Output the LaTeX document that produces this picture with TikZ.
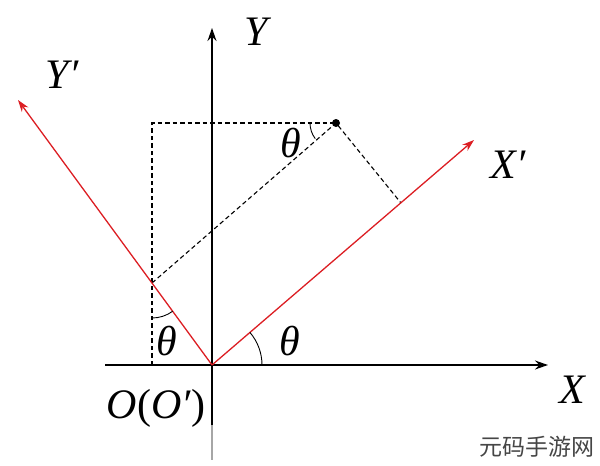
\documentclass[tikz,border=0pt]{standalone}
\usepackage{fontspec}
\setmainfont{Liberation Serif}
\newfontfamily\cjk{Noto Sans CJK SC}
\usetikzlibrary{arrows.meta}
\definecolor{axred}{RGB}{220,30,35}
\definecolor{wmgray}{RGB}{70,70,70}
\tikzset{
  axis/.style={line width=1.4pt, -{Stealth[length=13pt,width=9pt]}},
  raxis/.style={axred, line width=1.3pt, -{Stealth[length=12pt,width=8pt]}},
  dline/.style={line width=1.1pt, dash pattern=on 4.5pt off 3pt},
  ang/.style={line width=0.9pt},
  lbl/.style={font=\fontsize{42}{42}\selectfont\itshape, inner sep=0pt},
}
\begin{document}
\begin{tikzpicture}[x=1pt,y=-1pt]
\useasboundingbox (0,0) rectangle (600,466);
% points
\coordinate (O) at (212,365);
\coordinate (Xe) at (548,365);
\coordinate (Xs) at (105,365);
\coordinate (Ye) at (212,28);
\coordinate (Ys) at (212,425);
\coordinate (Yb) at (212,460);
\coordinate (Xp) at (474,140);
\coordinate (Yp) at (18,100);
\coordinate (P) at (336,123);
\coordinate (Q) at (152,123);
\coordinate (A) at (152,365);
\coordinate (B) at (152,283);
\coordinate (C) at (401,203);
\coordinate (Ba) at (152,318);
\coordinate (Pa) at (310,123);
\coordinate (Oa) at (262,365);
% dashed lines
\draw[dline] (A) -- (Q) -- (P);
\draw[dline] (B) -- (P) -- (C);
% axes
\draw[line width=1.4pt, gray!70] (Ys) -- (Yb);
\draw[axis] (Ys) -- (Ye);
\draw[axis] (Xs) -- (Xe);
\draw[raxis] (O) -- (Xp);
\draw[raxis] (O) -- (Yp);
% point
\fill (P) circle[radius=4pt];
% angle arcs
\draw[ang] (Ba) arc[start angle=90, end angle=53.8, radius=35];
\draw[ang] (Pa) arc[start angle=180, end angle=143, radius=26];
\draw[ang] (Oa) arc[start angle=0, end angle=-40.7, radius=50];
% labels
\node[lbl] (lY) at (256,32) {Y};
\node[lbl] (lYp) at (62,75) {Y′};
\node[lbl] (lXp) at (508,165) {X′};
\node[lbl] (lX) at (572,390) {X};
\node[lbl] (lO) at (156,408) {O\textup{(}O′\textup{)}};
\node[lbl] (t1) at (290,341) {θ};
\node[lbl] (t2) at (167,341) {θ};
\node[lbl] (t3) at (291,143) {θ};
\node[font=\cjk\fontsize{23}{23}\selectfont, text=wmgray, inner sep=0pt] (wm) at (537,447) {元码手游网};
\end{tikzpicture}
\end{document}
